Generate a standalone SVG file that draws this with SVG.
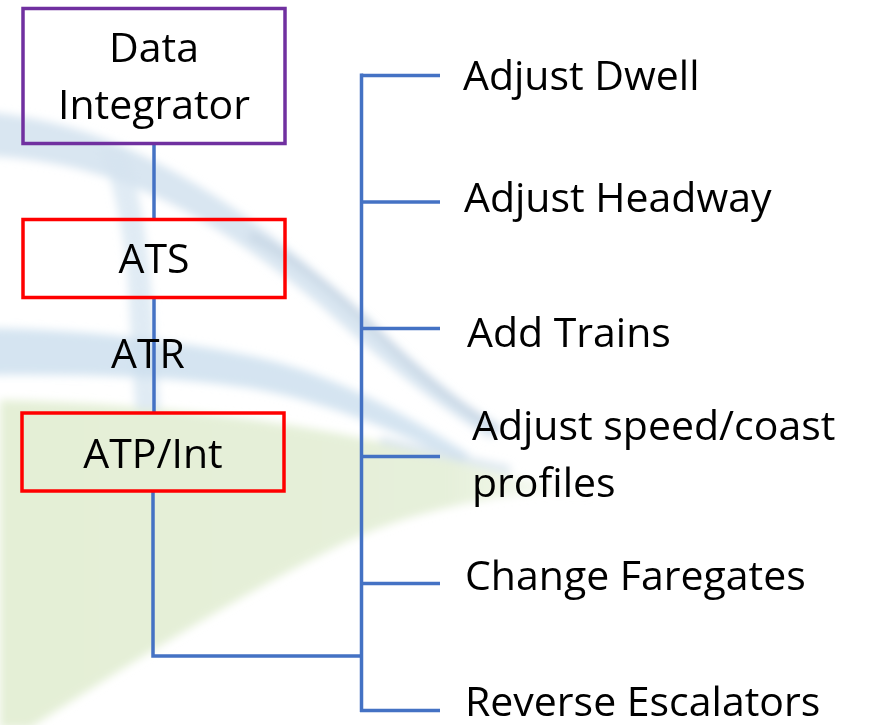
<svg xmlns="http://www.w3.org/2000/svg" width="871" height="725" viewBox="0 0 871 725">
  <style>
    .lbl { font-family: "Open Sans", "Liberation Sans", sans-serif; font-size: 41px; fill: #000000; }
    .box-purple { fill: none; stroke: #7030A0; stroke-width: 3.5; }
    .box-red { fill: none; stroke: #FF0000; stroke-width: 3.5; }
    .link { fill: none; stroke: #4472C4; stroke-width: 3.5; stroke-linejoin: miter; stroke-linecap: butt; }
  </style>
  <defs>
    <filter id="soft" x="-10%" y="-10%" width="120%" height="120%">
      <feGaussianBlur stdDeviation="4"/>
    </filter>
    <linearGradient id="greenFade" x1="0" y1="0" x2="1" y2="0">
      <stop offset="0" stop-color="#E4EFD6"/>
      <stop offset="0.75" stop-color="#E6F0DA"/>
      <stop offset="1" stop-color="#E6F0DA" stop-opacity="0"/>
    </linearGradient>
  </defs>

  <rect width="871" height="725" fill="#FFFFFF"/>

  <!-- soft background swooshes -->
  <g id="background" filter="url(#soft)">
    <!-- green wedge -->
    <path d="M0,400 C150,404 300,420 420,452 C480,467 540,482 600,500 L560,492 C480,496 400,515 340,545 C250,590 150,650 30,728 L0,728 Z" fill="url(#greenFade)"/>
    <!-- wide band, upper left -->
    <path d="M-10,112 C40,118 80,128 120,145 C200,180 270,230 330,285 C380,330 430,380 500,430 L490,438 C420,395 370,350 320,305 C260,255 190,205 110,178 C70,165 30,158 -10,156 Z" fill="#D2E2EF" opacity="0.85"/>
    <!-- thin streak crossing the spine -->
    <path d="M250,235 C300,260 345,300 380,335 C420,375 455,405 500,430" stroke="#C6D5E4" stroke-width="8" fill="none" opacity="0.85"/>
    <!-- near-vertical band behind the left column -->
    <path d="M100,150 C120,200 128,260 130,320 C132,360 134,390 136,410 L160,410 C158,380 156,340 152,300 C148,240 140,190 125,150 Z" fill="#D6E4F0" opacity="0.75"/>
    <!-- horizontal band, mid left -->
    <path d="M-10,328 C80,330 180,340 260,358 C330,374 400,410 470,455 L460,462 C390,428 320,400 250,388 C170,376 80,374 -10,375 Z" fill="#CEDFEE" opacity="0.85"/>
    <!-- faint streak toward the right side texts -->
    <path d="M380,440 C420,450 460,458 510,470" stroke="#D3E0EB" stroke-width="8" fill="none" opacity="0.75"/>
  </g>

  <!-- connectors -->
  <g id="connectors">
    <line class="link" x1="154" y1="144" x2="154" y2="219"/>
    <line class="link" x1="154" y1="298" x2="154" y2="413"/>
    <polyline class="link" points="153,492 153,656 361.5,656"/>
    <line class="link" x1="361.5" y1="73.5" x2="361.5" y2="712"/>
    <line class="link" x1="361.5" y1="75.5" x2="440" y2="75.5"/>
    <line class="link" x1="361.5" y1="202" x2="440" y2="202"/>
    <line class="link" x1="361.5" y1="328.5" x2="440" y2="328.5"/>
    <line class="link" x1="361.5" y1="456.5" x2="440" y2="456.5"/>
    <line class="link" x1="361.5" y1="583.5" x2="440" y2="583.5"/>
    <line class="link" x1="360" y1="710.5" x2="440" y2="710.5"/>
  </g>

  <!-- left column -->
  <g id="node-data-integrator">
    <rect class="box-purple" x="23" y="8.5" width="262" height="135"/>
    <text class="lbl" x="154" y="62" text-anchor="middle">Data</text>
    <text class="lbl" x="154" y="119" text-anchor="middle">Integrator</text>
  </g>
  <g id="node-ats">
    <rect class="box-red" x="23" y="219.5" width="262" height="78"/>
    <text class="lbl" x="154" y="273" text-anchor="middle">ATS</text>
  </g>
  <g id="label-atr">
    <text class="lbl" x="148" y="368" text-anchor="middle" font-size="34">ATR</text>
  </g>
  <g id="node-atp">
    <rect class="box-red" x="22" y="413" width="262" height="78"/>
    <text class="lbl" x="153" y="468" text-anchor="middle">ATP/Int</text>
  </g>

  <!-- right column actions -->
  <g id="node-adjust-dwell"><text class="lbl" x="463" y="90">Adjust Dwell</text></g>
  <g id="node-adjust-headway"><text class="lbl" x="464" y="212">Adjust Headway</text></g>
  <g id="node-add-trains"><text class="lbl" x="467" y="347">Add Trains</text></g>
  <g id="node-adjust-speed">
    <text class="lbl" x="472" y="440">Adjust speed/coast</text>
    <text class="lbl" x="472" y="497">profiles</text>
  </g>
  <g id="node-change-faregates"><text class="lbl" x="465" y="590">Change Faregates</text></g>
  <g id="node-reverse-escalators"><text class="lbl" x="465" y="716">Reverse Escalators</text></g>
</svg>
